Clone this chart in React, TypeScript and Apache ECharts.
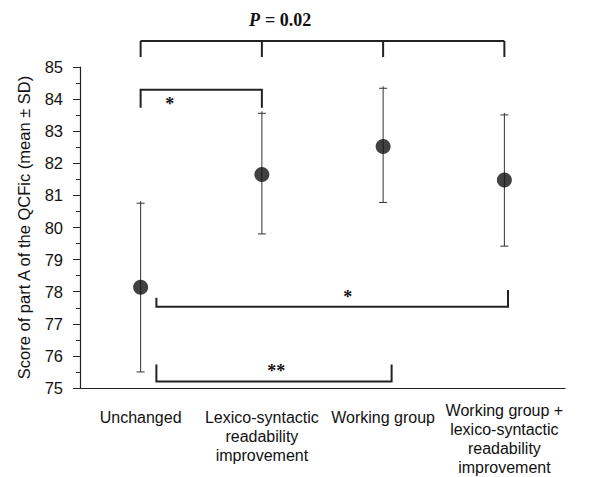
import React, { useEffect, useRef } from "react";
import * as echarts from "echarts";

const categories = [
  "Unchanged",
  "Lexico-syntactic\nreadability\nimprovement",
  "Working group",
  "Working group +\nlexico-syntactic\nreadability\nimprovement",
];
const means = [78.14, 81.65, 82.52, 81.48];
const sdLow = [75.5, 79.8, 80.78, 79.42];
const sdHigh = [80.82, 83.62, 84.4, 83.57];

// brackets: [fromIdx, fromOffset, toIdx, toOffset, lineY, leftTickEnd, rightTickEnd, label, labelPos, labelY]
const brackets: [number, number, number, number, number, number, number, string, number, number][] = [
  [0, 0, 1, 0, 84.29, 83.73, 83.73, "*", 0.24, 83.84],
  [0, 0.13, 3, 0.03, 77.53, 77.81, 78.05, "*", 0.544, 77.85],
  [0, 0.13, 2, 0.07, 75.2, 75.73, 75.73, "**", 0.51, 75.52],
];
const topBracket = { level: 85.81, tickEnd: 85.31 };
const yTicks = { min: 75, max: 85, interval: 1 };

export default function App() {
  const ref = useRef<HTMLDivElement>(null);
  useEffect(() => {
    if (!ref.current) return;
    const chart = echarts.init(ref.current, undefined, { renderer: "svg" });
    const errData = categories.map((_, i) => [i, sdLow[i], sdHigh[i]]);
    const option: any = {
      animation: false,
      title: {
        text: "{i|P} {b|= 0.02}",
        left: 244,
        top: 6,
        textStyle: {
          rich: {
            i: { fontFamily: "Liberation Serif", fontStyle: "italic", fontWeight: "bold", fontSize: 18, color: "#111" },
            b: { fontFamily: "Liberation Serif", fontWeight: "bold", fontSize: 18, color: "#111" },
          },
        },
      },
      grid: { left: 80, right: 42, top: 67, bottom: 87.5 },
      xAxis: {
        type: "category",
        data: categories.map((c, i) => ({
          value: c,
          textStyle: { padding: [i === 3 ? 0 : 7, 0, 0, 0] },
        })),
        axisLine: { lineStyle: { color: "#222", width: 1.2 } },
        axisTick: { alignWithLabel: true, length: 4, lineStyle: { color: "#222" } },
        axisLabel: {
          interval: 0,
          margin: 13,
          fontSize: 16,
          lineHeight: 19,
          color: "#111",
          fontFamily: "Liberation Sans",
        },
      },
      yAxis: {
        type: "value",
        min: yTicks.min,
        max: yTicks.max,
        interval: yTicks.interval,
        name: "Score of part A of the QCFic (mean ± SD)",
        nameLocation: "middle",
        nameGap: 48,
        nameTextStyle: { fontSize: 16.5, color: "#111", fontFamily: "Liberation Sans" },
        axisLine: { show: true, lineStyle: { color: "#222", width: 1.2 } },
        axisTick: { show: true, length: 7, lineStyle: { color: "#222" } },
        minorTick: { show: true, splitNumber: 2, length: 4, lineStyle: { color: "#222" } },
        splitLine: { show: false },
        axisLabel: { fontSize: 16.5, color: "#111", margin: 17, fontFamily: "Liberation Sans" },
      },
      series: [
        {
          type: "custom",
          data: errData,
          z: 2,
          renderItem: (params: any, api: any) => {
            const x = api.value(0);
            const lo = api.coord([x, api.value(1)]);
            const hi = api.coord([x, api.value(2)]);
            const style = { stroke: "#333", lineWidth: 1 };
            return {
              type: "group",
              children: [
                { type: "line", shape: { x1: lo[0], y1: lo[1], x2: hi[0], y2: hi[1] }, style },
                { type: "line", shape: { x1: lo[0] - 4, y1: lo[1], x2: lo[0] + 4, y2: lo[1] }, style },
                { type: "line", shape: { x1: hi[0] - 4, y1: hi[1] + 2, x2: hi[0] + 4, y2: hi[1] + 2 }, style },
              ],
            };
          },
        },
        {
          type: "scatter",
          data: means.map((m, i) => [i, m]),
          symbol: "circle",
          symbolSize: 15,
          itemStyle: { color: "#111" },
          z: 3,
        },
        {
          type: "custom",
          data: brackets.map((b, i) => [i]),
          renderItem: (params: any, api: any) => {
            const b = brackets[params.dataIndex];
            const band = api.size([1, 0])[0];
            const p1 = api.coord([b[0], b[4]]);
            const p2 = api.coord([b[2], b[4]]);
            const x1 = p1[0] + b[1] * band;
            const x2 = p2[0] + b[3] * band;
            const yl = p1[1];
            const ylT = api.coord([0, b[5]])[1];
            const yrT = api.coord([0, b[6]])[1];
            const ylab = api.coord([0, b[9]])[1];
            const style = { stroke: "#222", lineWidth: 2, fill: "none" };
            return {
              type: "group",
              children: [
                { type: "polyline", shape: { points: [[x1, ylT], [x1, yl], [x2, yl], [x2, yrT]] }, style },
                {
                  type: "text",
                  style: {
                    text: b[7],
                    x: x1 + (x2 - x1) * b[8],
                    y: ylab,
                    align: "center",
                    verticalAlign: "middle",
                    fontSize: 18,
                    fontWeight: "bold",
                    fontFamily: "Liberation Serif",
                    fill: "#111",
                  },
                },
              ],
            };
          },
        },
        {
          type: "custom",
          data: [[0]],
          renderItem: (params: any, api: any) => {
            const style = { stroke: "#222", lineWidth: 2, fill: "none" };
            const yl = api.coord([0, topBracket.level])[1];
            const yt = api.coord([0, topBracket.tickEnd])[1];
            const children: any[] = [];
            const xs = categories.map((_, i) => api.coord([i, topBracket.level])[0]);
            children.push({ type: "line", shape: { x1: xs[0], y1: yl, x2: xs[xs.length - 1], y2: yl }, style });
            xs.forEach((x) => children.push({ type: "line", shape: { x1: x, y1: yl, x2: x, y2: yt }, style }));
            return { type: "group", children };
          },
        },
      ],
    };
    chart.setOption(option);
    return () => chart.dispose();
  }, []);
  return <div ref={ref} style={{ width: 607, height: 477, position: "absolute", left: 0, top: 0 }} />;
}
